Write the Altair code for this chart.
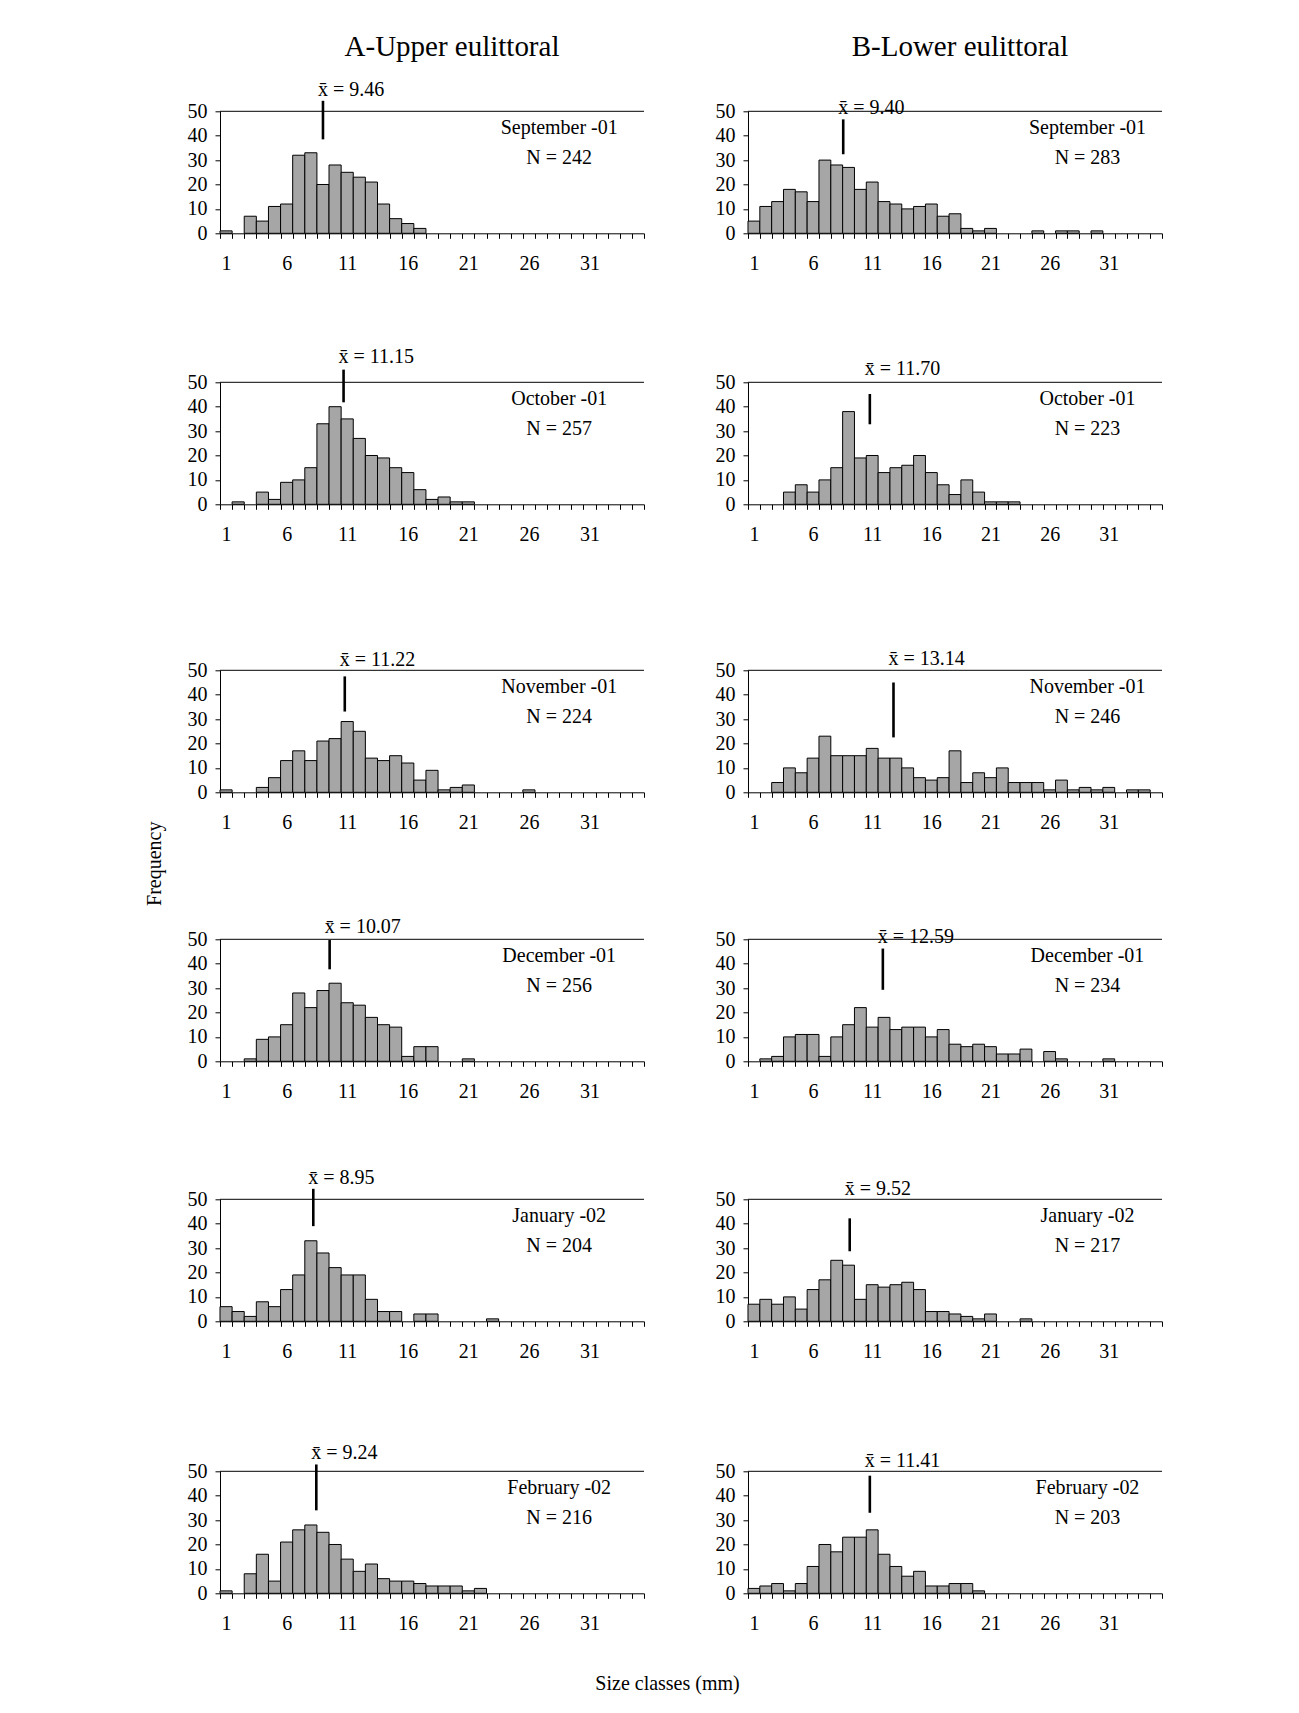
import altair as alt
import pandas as pd

FONT = "Liberation Serif"
GREY = "#a6a6a6"
N_CLASSES = 35
H = 122
WIDTH = {"A": 424, "B": 414}
FS = 20  # text size

months = ["September -01", "October -01", "November -01",
          "December -01", "January -02", "February -02"]

# ---- Column A: Upper eulittoral, frequency per size class 1, 2, 3 ...
A_sep = [1, 0, 7, 5, 11, 12, 32, 33, 20, 28, 25, 23, 21, 12, 6, 4, 2]
A_oct = [0, 1, 0, 5, 2, 9, 10, 15, 33, 40, 35, 27, 20, 19, 15, 13, 6, 2, 3, 1, 1]
A_nov = [1, 0, 0, 2, 6, 13, 17, 13, 21, 22, 29, 25, 14, 13, 15, 12, 5, 9, 1, 2, 3,
         0, 0, 0, 0, 1]
A_dec = [0, 0, 1, 9, 10, 15, 28, 22, 29, 32, 24, 23, 18, 15, 14, 2, 6, 6, 0, 0, 1]
A_jan = [6, 4, 2, 8, 6, 13, 19, 33, 28, 22, 19, 19, 9, 4, 4, 0, 3, 3, 0, 0, 0, 0, 1]
A_feb = [1, 0, 8, 16, 5, 21, 26, 28, 25, 20, 14, 9, 12, 6, 5, 5, 4, 3, 3, 3, 1, 2]
A_N = [242, 257, 224, 256, 204, 216]
A_mean = [9.46, 11.15, 11.22, 10.07, 8.95, 9.24]
A_marker_x = [9.0, 10.7, 10.8, 9.55, 8.2, 8.45]
A_marker_top = [54.3, 55.2, 47.5, 49.7, 54.3, 52.8]
A_marker_bottom = [38.5, 41.8, 33.1, 37.7, 39.0, 34.0]
A_label_y = [56.4, 57.8, 51.9, 52.4, 56.1, 54.9]

# ---- Column B: Lower eulittoral
B_sep = [5, 11, 13, 18, 17, 13, 30, 28, 27, 18, 21, 13, 12, 10, 11, 12, 7, 8, 2, 1, 2,
         0, 0, 0, 1, 0, 1, 1, 0, 1]
B_oct = [0, 0, 0, 5, 8, 5, 10, 15, 38, 19, 20, 13, 15, 16, 20, 13, 8, 4, 10, 5, 1, 1, 1]
B_nov = [0, 0, 4, 10, 8, 14, 23, 15, 15, 15, 18, 14, 14, 10, 6, 5, 6, 17, 4, 8, 6,
         10, 4, 4, 4, 1, 5, 1, 2, 1, 2, 0, 1, 1]
B_dec = [0, 1, 2, 10, 11, 11, 2, 10, 15, 22, 14, 18, 13, 14, 14, 10, 13, 7, 6, 7, 6,
         3, 3, 5, 0, 4, 1, 0, 0, 0, 1]
B_jan = [7, 9, 7, 10, 5, 13, 17, 25, 23, 9, 15, 14, 15, 16, 13, 4, 4, 3, 2, 1, 3, 0, 0, 1]
B_feb = [2, 3, 4, 1, 4, 11, 20, 17, 23, 23, 26, 16, 11, 7, 9, 3, 3, 4, 4, 1]
B_N = [283, 223, 246, 234, 217, 203]
B_mean = [9.40, 11.70, 13.14, 12.59, 9.52, 11.41]
B_marker_x = [8.55, 10.8, 12.8, 11.9, 9.1, 10.8]
B_marker_top = [46.7, 45.2, 45.0, 46.2, 42.2, 48.2]
B_marker_bottom = [32.4, 32.8, 22.5, 29.3, 28.7, 33.0]
B_label_y = [49.0, 52.8, 52.2, 48.5, 51.7, 51.7]

A_freqs = [A_sep, A_oct, A_nov, A_dec, A_jan, A_feb]
B_freqs = [B_sep, B_oct, B_nov, B_dec, B_jan, B_feb]

INFO_X = {"A": 28.5, "B": 29.2}
MONTH_Y, N_Y = 43, 31

# empty space above each row's plot area (irregular row pitch of the figure)
ROW_GAP = [0, 149, 166, 147, 138, 150]


def make_panel(col, row, freqs, month, n, mean, mx, mtop, mbot, ly,
               title=None, title_offset=0, title_dx=0, ytitle=None, xtitle=None):
    W = WIDTH[col]
    Hv = H + ROW_GAP[row]
    xscale = alt.Scale(domain=[0.5, N_CLASSES + 0.5], nice=False, zero=False)
    yscale = alt.Scale(domain=[0, 50], nice=False, zero=True, range=[Hv, Hv - H])

    vals = list(freqs) + [0] * (N_CLASSES - len(freqs))
    df = pd.DataFrame({"cls": list(range(1, N_CLASSES + 1)), "freq": vals})
    df = df[df["freq"] > 0]

    xaxis_kw = dict(
        values=[i + 0.5 for i in range(N_CLASSES + 1)],
        labelExpr="(datum.value - 0.5) % 5 == 0 && datum.value < 33 ? format(datum.value + 0.5, 'd') : ''",
        labelOffset=W / N_CLASSES / 2, tickSize=5, labelPadding=15,
        labelFont=FONT, labelFontSize=FS, labelColor="black",
        domainColor="black", tickColor="black", grid=False,
        labelOverlap=False, labelFlush=False, labelBound=False,
        title=None,
    )
    if xtitle:
        xaxis_kw["title"] = xtitle[0]
        xaxis_kw.update(titleX=xtitle[1], titleY=xtitle[2], titleFont=FONT,
                        titleFontSize=FS, titleFontWeight="normal",
                        titleColor="black", titleAlign="center", titleBaseline="middle",
                        titleAngle=0)
    yaxis_kw = dict(
        values=[0, 10, 20, 30, 40, 50], tickSize=5, labelPadding=8,
        labelFont=FONT, labelFontSize=FS, labelColor="black",
        domainColor="black", tickColor="black", grid=False, title=None,
        labelFlush=False,
    )
    if ytitle:
        yaxis_kw["title"] = ytitle[0]
        yaxis_kw.update(titleX=ytitle[1], titleY=ytitle[2], titleFont=FONT,
                        titleFontSize=FS, titleFontWeight="normal", titleColor="black",
                        titleAngle=270, titleAlign="center", titleBaseline="middle")
    xaxis = alt.Axis(**xaxis_kw)
    yaxis = alt.Axis(**yaxis_kw)

    bars = alt.Chart(df).mark_bar(fill=GREY, stroke="black", strokeWidth=1).transform_calculate(
        x0="datum.cls - 0.5", x1="datum.cls + 0.5"
    ).encode(
        x=alt.X("x0:Q", scale=xscale, axis=xaxis),
        x2="x1:Q",
        y=alt.Y("freq:Q", scale=yscale, axis=yaxis),
        y2=alt.datum(0),
    )

    top = alt.Chart(pd.DataFrame({"v": [50]})).mark_rule(color="black", strokeWidth=1).encode(
        y=alt.Y("v:Q", scale=yscale, axis=yaxis)
    )

    mdf = pd.DataFrame({"mx": [mx], "top": [mtop], "bot": [mbot], "ly": [ly],
                        "label": ["x\u0304 = %.2f" % mean]})
    marker = alt.Chart(mdf).mark_rule(color="black", strokeWidth=2.6).encode(
        x=alt.X("mx:Q", scale=xscale, axis=xaxis),
        y=alt.Y("top:Q", scale=yscale, axis=yaxis),
        y2="bot:Q",
    )
    mlabel = alt.Chart(mdf).mark_text(
        align="left", baseline="alphabetic", dx=-5, font=FONT, fontSize=FS, color="black"
    ).encode(
        x=alt.X("mx:Q", scale=xscale, axis=xaxis),
        y=alt.Y("ly:Q", scale=yscale, axis=yaxis),
        text="label:N",
    )

    idf = pd.DataFrame({"ix": [INFO_X[col]] * 2, "iy": [MONTH_Y, N_Y],
                        "t": [month, "N = %d" % n]})
    info = alt.Chart(idf).mark_text(
        align="center", baseline="middle", font=FONT, fontSize=FS, color="black"
    ).encode(
        x=alt.X("ix:Q", scale=xscale, axis=xaxis),
        y=alt.Y("iy:Q", scale=yscale, axis=yaxis),
        text="t:N",
    )

    props = dict(width=W, height=Hv)
    if title:
        props["title"] = alt.TitleParams(
            title, font=FONT, fontSize=29, fontWeight="normal", color="black",
            anchor="middle", frame="group", offset=title_offset, dx=title_dx,
        )
    return alt.layer(bars, top, marker, mlabel, info).properties(**props)


panels = []
for i in range(6):
    kwA = {}
    kwB = {}
    if i == 0:
        kwA = dict(title="A-Upper eulittoral", title_offset=17.6, title_dx=20)
        kwB = dict(title="B-Lower eulittoral", title_offset=35.6, title_dx=5)
    if i == 2:
        kwA["ytitle"] = ("Frequency", -66, ROW_GAP[2] + 193)
    if i == 5:
        kwA["xtitle"] = ("Size classes (mm)", 447, 90.5)
    panels.append(make_panel("A", i, A_freqs[i], months[i], A_N[i], A_mean[i], A_marker_x[i],
                             A_marker_top[i], A_marker_bottom[i], A_label_y[i], **kwA))
    panels.append(make_panel("B", i, B_freqs[i], months[i], B_N[i], B_mean[i], B_marker_x[i],
                             B_marker_top[i], B_marker_bottom[i], B_label_y[i], **kwB))

chart = alt.concat(
    *panels, columns=2, spacing={"row": 0, "column": 104}, bounds="flush"
).properties(
    padding={"left": 136, "top": 24.3, "right": 10, "bottom": 10}
).configure(font=FONT, background="white", view=alt.ViewConfig(stroke=None))

chart.save("out.html", embed_options={"renderer": "svg", "actions": False})
